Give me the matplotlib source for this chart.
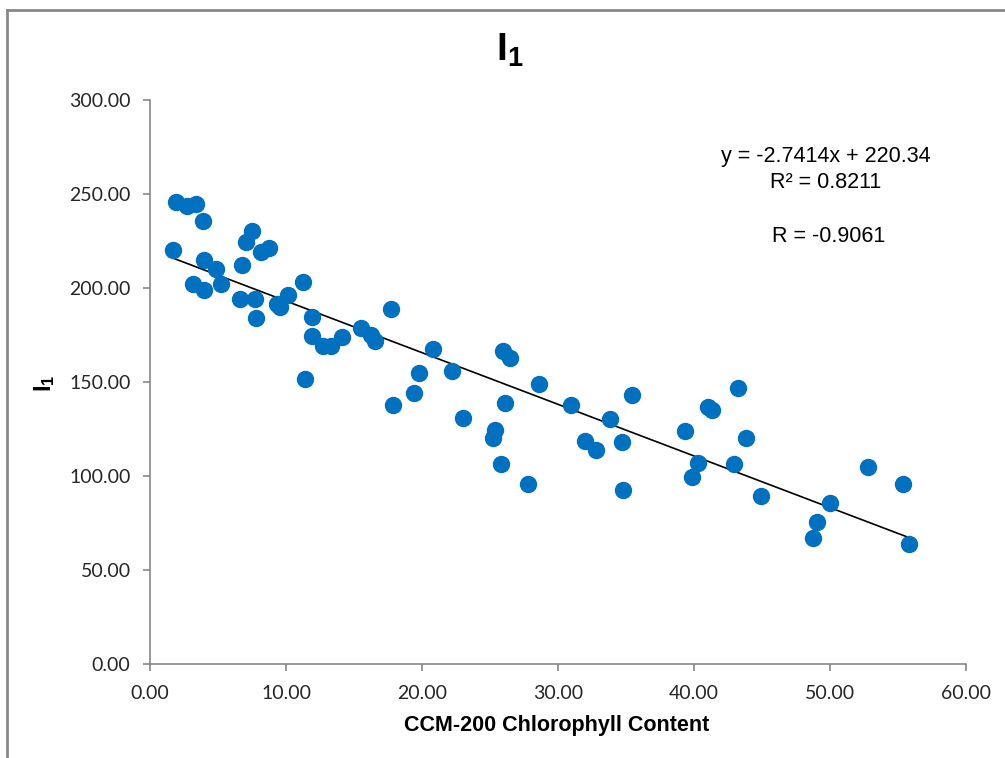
import numpy as np
import matplotlib
matplotlib.use("Agg")
import matplotlib.pyplot as plt
from matplotlib.lines import Line2D

# chlorophyll content (CCM-200) vs I1
ccm = [1.91, 2.70, 3.38, 3.87, 1.72, 7.48, 7.06, 8.14, 8.77, 3.97,
       4.85, 6.74, 3.19, 5.20, 3.97, 11.27, 6.62, 7.75, 7.82, 9.31,
       9.56, 10.17, 11.91, 11.94, 12.70, 13.33, 14.09, 11.37, 17.75, 15.49,
       16.23, 16.57, 20.83, 19.75, 22.20, 19.41, 17.89, 22.99, 25.98, 26.47,
       28.63, 26.13, 25.34, 25.22, 25.83, 27.77, 30.93, 33.82, 35.42, 32.01,
       32.79, 34.73, 34.80, 39.36, 40.32, 39.83, 43.21, 41.05, 41.30, 43.82,
       42.92, 44.90, 52.77, 55.34, 50.00, 49.02, 48.77, 55.81]
i1 = [245.9, 243.8, 244.8, 235.8, 220.2, 230.3, 224.3, 219.1, 221.3, 214.9,
      210.1, 212.2, 202.3, 202.3, 198.8, 203.4, 194.0, 194.0, 183.9, 191.3,
      190.1, 196.1, 184.6, 174.5, 169.3, 169.3, 173.8, 151.4, 189.0, 178.7,
      174.8, 172.0, 167.6, 154.8, 155.9, 144.1, 137.9, 130.7, 166.5, 162.9,
      148.8, 139.0, 124.3, 120.4, 106.5, 95.6, 137.9, 130.3, 143.1, 118.4,
      113.8, 118.2, 92.7, 123.9, 106.7, 99.3, 147.0, 136.9, 135.1, 120.0,
      106.2, 89.4, 105.0, 95.9, 85.5, 75.7, 66.8, 63.7]

x_ticks = [0, 10, 20, 30, 40, 50, 60]
y_ticks = [0, 50, 100, 150, 200, 250, 300]

eq_text = "y = -2.7414x + 220.34"
r2_text = "R\u00b2 = 0.8211"
r_text = "R = -0.9061"

plt.rcParams['mathtext.fontset'] = 'custom'
plt.rcParams['mathtext.bf'] = 'Liberation Sans:bold'
plt.rcParams['mathtext.rm'] = 'Liberation Sans'

W, H = 1005, 758
fig = plt.figure(figsize=(W / 100, H / 100), dpi=100)
ax = fig.add_axes([150 / W, 1 - 664 / H, (966 - 150) / W, (664 - 100) / H])

x = np.array(ccm)
y = np.array(i1)

# linear trendline over the data range
slope, intercept = np.polyfit(x, y, 1)
xs = np.array([x.min(), x.max()])
ax.plot(xs, slope * xs + intercept, color='black', lw=1.2, zorder=2)

ax.plot(x, y, 'o', color='#0070C0', markersize=11.5, markeredgecolor='#0070C0', zorder=3)

ax.set_xlim(0, 60)
ax.set_ylim(0, 300)
ax.set_xticks(x_ticks)
ax.set_yticks(y_ticks)
ax.set_xticklabels(['%.2f' % v for v in x_ticks])
ax.set_yticklabels(['%.2f' % v for v in y_ticks])

for s in ['top', 'right']:
    ax.spines[s].set_visible(False)
for s in ['left', 'bottom']:
    ax.spines[s].set_color('#868686')
    ax.spines[s].set_linewidth(1.2)
ax.tick_params(axis='both', direction='out', length=5, width=1.2, color='#868686',
               labelsize=14, labelcolor='#262626')
ax.tick_params(axis='y', pad=9)
ax.tick_params(axis='x', pad=10)
for lbl in ax.get_xticklabels() + ax.get_yticklabels():
    lbl.set_fontfamily('Lato')

# title and axis titles
fig.text(510 / W, 1 - 50 / H, r'$\mathbf{I_1}$', fontsize=28, ha='center', va='center')
fig.text(45 / W, 1 - 383 / H, r'$\mathbf{I_1}$', fontsize=17, ha='center', va='center',
         rotation=90)
fig.text(557 / W, 1 - 725 / H, 'CCM-200 Chlorophyll Content', fontsize=15.5,
         fontweight='bold', family='Liberation Sans', ha='center', va='center')

# trendline annotation
fig.text(826 / W, 1 - 162 / H, eq_text, fontsize=15.5, family='Liberation Sans',
         ha='center', va='baseline')
fig.text(826 / W, 1 - 188 / H, r2_text, fontsize=15.5, family='Liberation Sans',
         ha='center', va='baseline')
fig.text(829 / W, 1 - 242 / H, r_text, fontsize=15.5, family='Liberation Sans',
         ha='center', va='baseline')

# chart border (top and left visible)
fig.add_artist(Line2D([6.5 / W, 6.5 / W], [0, 1 - 10 / H], color='#888888', lw=2,
                      transform=fig.transFigure))
fig.add_artist(Line2D([6.5 / W, 1], [1 - 10 / H, 1 - 10 / H], color='#888888', lw=2,
                      transform=fig.transFigure))

fig.savefig('out.png', dpi=100)
